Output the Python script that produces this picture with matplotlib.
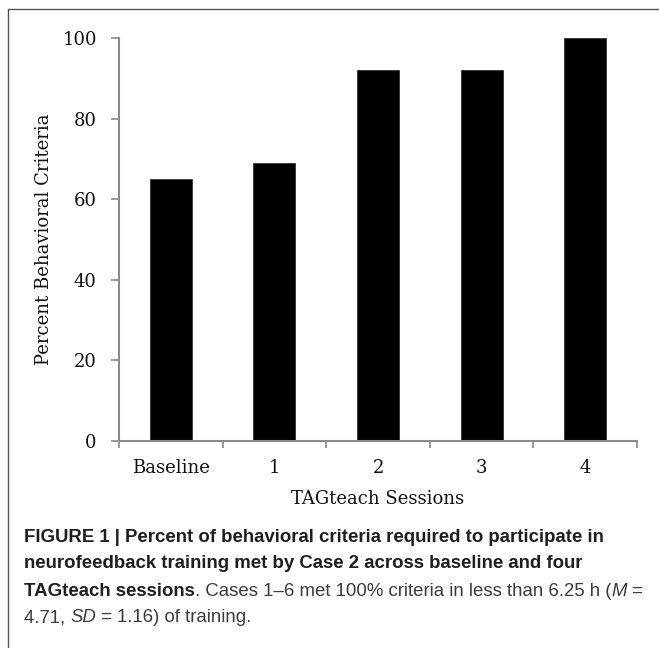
import matplotlib
matplotlib.use('Agg')
import matplotlib.pyplot as plt
from matplotlib.lines import Line2D

# data
sessions = ['Baseline', '1', '2', '3', '4']
percent = [65, 69, 92, 92, 100]
yticks = [0, 20, 40, 60, 80, 100]

W, H = 659, 648
fig = plt.figure(figsize=(W / 100, H / 100), dpi=100)

serif = ['DejaVu Serif']
fs = 13
ax = fig.add_axes([119 / W, 1 - 441 / H, 518 / W, 403 / H])
x = list(range(len(sessions)))
ax.bar(x, percent, width=0.405, color='black', edgecolor='#333333', linewidth=0.6)

ax.set_xlim(-0.5, len(sessions) - 0.5)
ax.set_ylim(0, 100)
ax.set_yticks(yticks)
ax.set_yticklabels([str(v) for v in yticks], family=serif, fontsize=fs, color='#111111')
ax.set_xticks(x)
ax.set_xticklabels(sessions, family=serif, fontsize=fs, color='#111111')
ax.set_xticks([i - 0.5 for i in range(len(sessions) + 1)], minor=True)

ax.tick_params(axis='x', which='major', length=0, pad=13)
ax.tick_params(axis='x', which='minor', length=5, width=1.2, color='#8a8a8a', direction='out')
ax.tick_params(axis='y', length=6, width=1.2, color='#8a8a8a', direction='out', pad=10)

for s in ['top', 'right']:
    ax.spines[s].set_visible(False)
for s in ['left', 'bottom']:
    ax.spines[s].set_color('#8a8a8a')
    ax.spines[s].set_linewidth(1.5)

ax.set_ylabel('Percent Behavioral Criteria', family=serif, fontsize=fs, va='center', color='#111111')
ax.yaxis.set_label_coords(-0.145, 0.5)
ax.set_xlabel('TAGteach Sessions', family=serif, fontsize=fs, va='center', color='#111111')
ax.xaxis.set_label_coords(0.5, -0.143)

# frame around the figure panel
fig.add_artist(Line2D([8 / W, 8 / W, 1.0], [0.0, 1 - 9 / H, 1 - 9 / H],
                      transform=fig.transFigure, color='#555555', linewidth=1.0))

# caption, written piece by piece
cap_font = ['Liberation Sans Narrow', 'Liberation Sans', 'DejaVu Sans']
dark = '#1e1e1e'
grey = '#3c3c3c'
lines = [
    [('FIGURE 1 | Percent of behavioral criteria required to participate in', 'bold', 'normal', dark)],
    [('neurofeedback training met by Case 2 across baseline and four', 'bold', 'normal', dark)],
    [('TAGteach sessions', 'bold', 'normal', dark),
     ('. Cases 1\u20136 met 100% criteria in less than 6.25 h (', 'normal', 'normal', grey),
     ('M', 'normal', 'italic', grey),
     (' =', 'normal', 'normal', grey)],
    [('4.71, ', 'normal', 'normal', grey),
     ('SD', 'normal', 'italic', grey),
     (' = 1.16) of training.', 'normal', 'normal', grey)],
]
line_y = [537, 564, 591, 618]

fig.canvas.draw()
renderer = fig.canvas.get_renderer()
for pieces, yy in zip(lines, line_y):
    xpos = 24
    for txt, weight, style, col in pieces:
        t = fig.text(xpos / W, 1 - yy / H, txt, family=cap_font, fontsize=13.4,
                     weight=weight, style=style, color=col, va='center', ha='left')
        bb = t.get_window_extent(renderer)
        xpos = bb.x1

fig.savefig('out.png', dpi=100)
